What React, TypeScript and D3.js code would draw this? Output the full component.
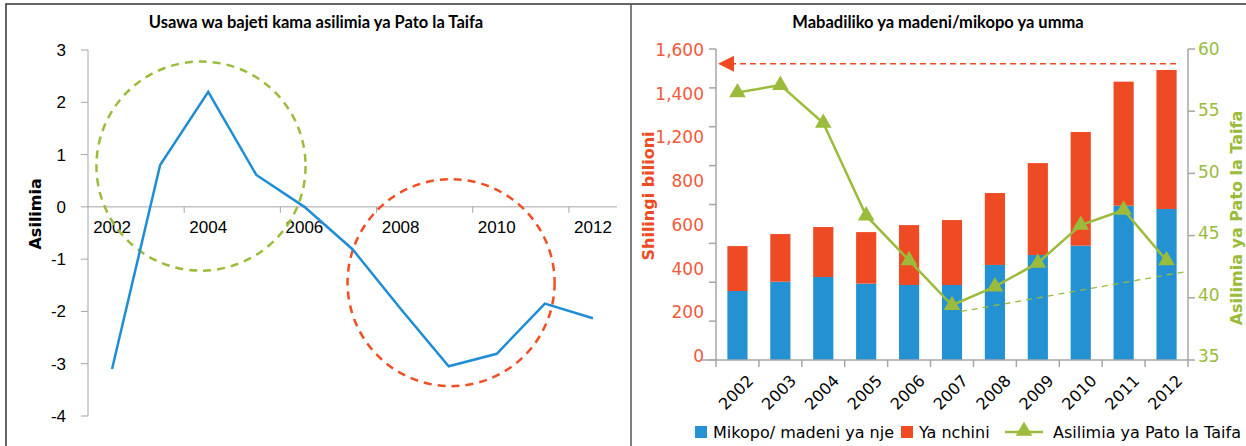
import React, { useRef, useEffect } from "react";
import * as d3 from "d3";

// categories
const years = ["2002", "2003", "2004", "2005", "2006", "2007", "2008", "2009", "2010", "2011", "2012"];

// left chart: budget balance as % of GDP
const budgetBalance = [-3.1, 0.8, 2.2, 0.61, 0.0, -0.81, -1.95, -3.05, -2.81, -1.85, -2.13];
const balanceTicks = [-4, -3, -2, -1, 0, 1, 2, 3];
const balanceYearLabels = ["2002", "2004", "2006", "2008", "2010", "2012"];
// dashed highlight circles (centre in category index / value units, radius in value units)
const highlightPos = [1.85, 7.05];
const highlightValue = [0.78, -1.45];
const highlightRadius = [2.0, 1.98];
const highlightColor = ["#9BBB3B", "#F04E23"];

// right chart: public debt
const externalDebt = [355, 403, 427, 393, 386, 386, 489, 540, 588, 794, 777];
const domesticDebt = [231, 245, 257, 265, 308, 334, 370, 473, 585, 638, 715];
const debtToGdp = [56.5, 57.1, 54.05, 46.6, 43.0, 39.4, 40.9, 42.8, 45.85, 47.06, 43.0];
const debtTicks = [0, 200, 400, 600, 800, 1000, 1200, 1400, 1600];
// labels as printed (1,000 is missing and the rest are spread evenly along the axis)
const debtTickLabels = ["0", "200", "400", "600", "800", "1,200", "1,400", "1,600"];
const gdpTicks = [35, 40, 45, 50, 55, 60];
const ceilingLevel = 1524;
const trendYears = ["2007", "2012"];
const trendValues = [38.9, 42.1];

const BLUE = "#2391D2";
const RED = "#EE4B25";
const GREEN = "#9BBB3B";
const AXIS = "#A6A6A6";
const FONT = "'DejaVu Sans', sans-serif";
const TITLE_FONT = "Lato, 'DejaVu Sans', sans-serif";

const App = () => {
  const svgRef = useRef(null);

  useEffect(() => {
    const svg = d3.select(svgRef.current);
    svg.selectAll("*").remove();

    // frame
    svg.append("path").attr("d", "M6,446V4H1246").attr("fill", "none").attr("stroke", "#333").attr("stroke-width", 1.5);
    svg.append("line").attr("x1", 631).attr("x2", 631).attr("y1", 4).attr("y2", 446).attr("stroke", "#555").attr("stroke-width", 1.5);

    // ---------- left chart ----------
    const L = svg.append("g");
    const lx = d3.scaleBand().domain(years).range([88, 617]);
    const lxi = d3.scaleLinear().domain([-0.5, years.length - 0.5]).range([88, 617]);
    const ly = d3.scaleLinear().domain([-4, 3]).range([416, 50]);

    L.append("text").attr("x", 316).attr("y", 28).attr("text-anchor", "middle")
      .style("font-family", TITLE_FONT).style("font-weight", "bold").style("font-size", "16.5px")
      .text("Usawa wa bajeti kama asilimia ya Pato la Taifa");

    L.append("line").attr("x1", 88).attr("x2", 88).attr("y1", ly(3)).attr("y2", ly(-4)).attr("stroke", AXIS);
    balanceTicks.forEach((t) => {
      L.append("line").attr("x1", 81).attr("x2", 88).attr("y1", ly(t)).attr("y2", ly(t)).attr("stroke", AXIS);
      L.append("text").attr("x", 66).attr("y", ly(t)).attr("dy", "0.35em").attr("text-anchor", "end")
        .style("font-family", "'Liberation Sans', Arial").style("font-size", "17px").text(t);
    });
    L.append("line").attr("x1", 88).attr("x2", 617).attr("y1", ly(0)).attr("y2", ly(0)).attr("stroke", AXIS);
    [2, 4, 6, 8, 10].forEach((k) => {
      const xx = 88 + k * lx.step();
      L.append("line").attr("x1", xx).attr("x2", xx).attr("y1", ly(0)).attr("y2", ly(0) + 6).attr("stroke", AXIS);
    });
    balanceYearLabels.forEach((yr) => {
      L.append("text").attr("x", lx(yr) + lx.bandwidth() / 2).attr("y", ly(0) + 26).attr("text-anchor", "middle")
        .style("font-family", "'Liberation Sans', Arial").style("font-size", "17px").text(yr);
    });
    L.append("text").attr("transform", `translate(41,${ly(0) + 7}) rotate(-90)`).attr("text-anchor", "middle")
      .style("font-family", FONT).style("font-weight", "bold").style("font-size", "16px").text("Asilimia");

    highlightPos.forEach((p, i) => {
      L.append("circle").attr("cx", lxi(p)).attr("cy", ly(highlightValue[i]))
        .attr("r", ly(0) - ly(highlightRadius[i]))
        .attr("fill", "none").attr("stroke", highlightColor[i]).attr("stroke-width", 2.5)
        .attr("stroke-dasharray", "8,6");
    });

    const balLine = d3.line<number>().x((d, i) => lx(years[i]) + lx.bandwidth() / 2).y((d) => ly(d));
    L.append("path").datum(budgetBalance).attr("d", balLine).attr("fill", "none")
      .attr("stroke", "#1F8DD6").attr("stroke-width", 2.5);

    // ---------- right chart ----------
    const R = svg.append("g");
    const x0 = 716, x1 = 1188;
    const slot = d3.scaleBand().domain(years).range([x0, x1]);
    const bx = d3.scaleBand().domain(years).range([x0, x1]).paddingInner(0.53).paddingOuter(0.265);
    const yd = d3.scaleLinear().domain([0, 1600]).range([360, 49]);
    const yg = d3.scaleLinear().domain([35, 60]).range([360, 49]);
    const labelY = d3.scalePoint().domain(debtTickLabels).range([356, 50]);
    const cx = (yr) => slot(yr) + slot.bandwidth() / 2;

    R.append("text").attr("x", 938).attr("y", 28).attr("text-anchor", "middle")
      .style("font-family", TITLE_FONT).style("font-weight", "bold").style("font-size", "16.5px")
      .text("Mabadiliko ya madeni/mikopo ya umma");

    // bars
    years.forEach((yr, i) => {
      R.append("rect").attr("x", bx(yr)).attr("width", bx.bandwidth())
        .attr("y", yd(externalDebt[i])).attr("height", yd(0) - yd(externalDebt[i])).attr("fill", BLUE);
      R.append("rect").attr("x", bx(yr)).attr("width", bx.bandwidth())
        .attr("y", yd(externalDebt[i] + domesticDebt[i])).attr("height", yd(0) - yd(domesticDebt[i])).attr("fill", RED);
    });

    // axes
    R.append("line").attr("x1", x0).attr("x2", x0).attr("y1", yd(1600)).attr("y2", yd(0)).attr("stroke", AXIS).attr("stroke-width", 1.5);
    debtTicks.forEach((t) => {
      R.append("line").attr("x1", x0 - 7).attr("x2", x0).attr("y1", yd(t)).attr("y2", yd(t)).attr("stroke", AXIS).attr("stroke-width", 1.5);
    });
    debtTickLabels.forEach((lab) => {
      R.append("text").attr("x", x0 - 12).attr("y", labelY(lab)).attr("dy", "0.35em").attr("text-anchor", "end")
        .attr("fill", "#F15A3A").style("font-family", FONT).style("font-size", "17px").text(lab);
    });
    R.append("line").attr("x1", x1).attr("x2", x1).attr("y1", yg(60)).attr("y2", yg(35)).attr("stroke", AXIS).attr("stroke-width", 1.5);
    gdpTicks.forEach((t) => {
      R.append("line").attr("x1", x1).attr("x2", x1 + 7).attr("y1", yg(t)).attr("y2", yg(t)).attr("stroke", AXIS).attr("stroke-width", 1.5);
      R.append("text").attr("x", x1 + 10).attr("y", yg(t) - (60 - t) * 0.15).attr("dy", "0.35em").attr("text-anchor", "start")
        .attr("fill", GREEN).style("font-family", FONT).style("font-size", "17px").text(t);
    });
    R.append("line").attr("x1", x0 - 14).attr("x2", x1).attr("y1", yd(0)).attr("y2", yd(0)).attr("stroke", AXIS).attr("stroke-width", 1.5);
    years.forEach((yr) => {
      R.append("line").attr("x1", slot(yr)).attr("x2", slot(yr)).attr("y1", yd(0)).attr("y2", yd(0) + 7).attr("stroke", AXIS).attr("stroke-width", 1.5);
      R.append("text").attr("transform", `translate(${cx(yr) + 9},${yd(0) + 14}) rotate(-45)`).attr("text-anchor", "end")
        .attr("dy", "0.7em").style("font-family", FONT).style("font-size", "16px").text(yr);
    });
    R.append("line").attr("x1", x1).attr("x2", x1).attr("y1", yd(0)).attr("y2", yd(0) + 7).attr("stroke", AXIS).attr("stroke-width", 1.5);

    R.append("text").attr("transform", "translate(654,196) rotate(-90)").attr("text-anchor", "middle")
      .attr("fill", RED).style("font-family", FONT).style("font-weight", "bold").style("font-size", "16px").text("Shilingi bilioni");
    R.append("text").attr("transform", "translate(1242,218) rotate(-90)").attr("text-anchor", "middle")
      .attr("fill", GREEN).style("font-family", FONT).style("font-weight", "bold").style("font-size", "16px").text("Asilimia ya Pato la Taifa");

    // ceiling arrow
    R.append("line").attr("x1", x0 + 14).attr("x2", bx("2012") + bx.bandwidth()).attr("y1", yd(ceilingLevel)).attr("y2", yd(ceilingLevel))
      .attr("stroke", RED).attr("stroke-width", 1.5).attr("stroke-dasharray", "6,4");
    R.append("path").attr("d", `M${x0 + 2},${yd(ceilingLevel)}l16,-8v16z`).attr("fill", RED);

    // trend (dashed)
    R.append("line").attr("x1", cx(trendYears[0]) + 9).attr("x2", cx(trendYears[1]) + 19)
      .attr("y1", yg(trendValues[0])).attr("y2", yg(trendValues[1]))
      .attr("stroke", GREEN).attr("stroke-width", 1.3).attr("stroke-dasharray", "6,5");

    // debt / GDP line
    const gLine = d3.line<number>().x((d, i) => cx(years[i])).y((d) => yg(d));
    R.append("path").datum(debtToGdp).attr("d", gLine).attr("fill", "none").attr("stroke", GREEN).attr("stroke-width", 2.5);
    const tri = d3.symbol().type(d3.symbolTriangle).size(120);
    debtToGdp.forEach((v, i) => {
      R.append("path").attr("d", tri()).attr("transform", `translate(${cx(years[i])},${yg(v)})`).attr("fill", GREEN);
    });

    // legend
    const lg = R.append("g").style("font-family", FONT).style("font-size", "16px");
    lg.append("rect").attr("x", 695).attr("y", 426).attr("width", 12).attr("height", 12).attr("fill", BLUE);
    lg.append("text").attr("x", 713).attr("y", 438).text("Mikopo/ madeni ya nje");
    lg.append("rect").attr("x", 901).attr("y", 426).attr("width", 12).attr("height", 12).attr("fill", RED);
    lg.append("text").attr("x", 919).attr("y", 438).text("Ya nchini");
    lg.append("line").attr("x1", 1005).attr("x2", 1043).attr("y1", 432).attr("y2", 432).attr("stroke", GREEN).attr("stroke-width", 2.5);
    lg.append("path").attr("d", tri()).attr("transform", "translate(1024,431)").attr("fill", GREEN);
    lg.append("text").attr("x", 1053).attr("y", 438).text("Asilimia ya Pato la Taifa");
  }, []);

  return (
    <svg ref={svgRef} width={1246} height={446}
      style={{ position: "absolute", left: 0, top: 0, background: "#fff" }} />
  );
};

export default App;
